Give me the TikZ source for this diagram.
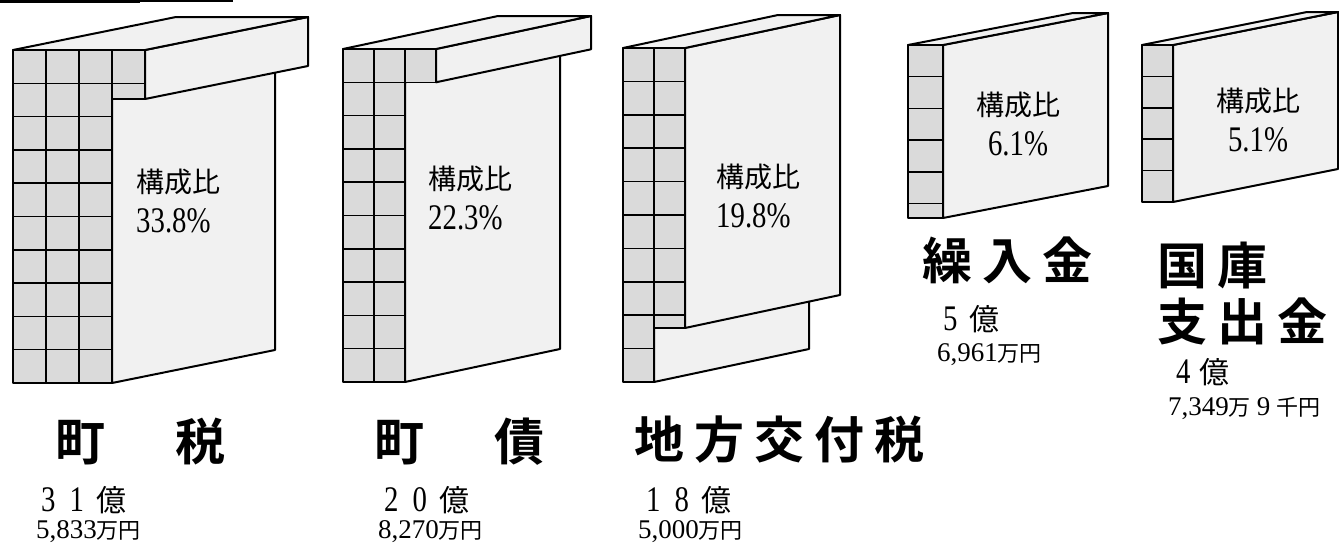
\documentclass[tikz,border=0pt]{standalone}
\usepackage{fontspec}
\setmainfont{Liberation Serif}
\newfontfamily\numfont{Liberation Serif}[FakeStretch=0.8]
\newfontfamily\jpfont{Noto Sans CJK JP}
\newfontfamily\jpbold{Noto Sans CJK JP Bold}[LetterSpace=20]
\usepackage{tikz}
\usetikzlibrary{calc}
\definecolor{face}{HTML}{F1F1F1}
\definecolor{tilegray}{HTML}{DADADA}
\tikzset{
  Face/.style={draw=black, line width=2pt, fill=face},
  Tile/.style={draw=black, line width=1.5pt, fill=tilegray},
  RatioText/.style={inner sep=0pt, font=\numfont\fontsize{36}{40}\selectfont},
  NameText/.style={inner sep=0pt, anchor=west, font=\jpbold\fontsize{50}{56}\selectfont},
  OkuText/.style={inner sep=0pt, anchor=west, font=\numfont\fontsize{36}{40}\selectfont},
  YenText/.style={inner sep=0pt, anchor=west, font=\fontsize{27}{30}\selectfont}
}
\newcommand{\TileGrid}[6]{%
  % #1,#2 = top left corner, #3 = tile width, #4 = tile height
  % #5 = columns, #6 = rows
  \foreach \ci in {1,...,#5}{%
    \foreach \ri in {1,...,#6}{%
      \draw[Tile] ({#1+(\ci-1)*#3},{#2+(\ri-1)*#4}) rectangle ++(#3,#4);
    }%
  }%
}
\newcommand{\SideFace}[5]{%
  % #1 = x of the face, #2 = top, #3 = bottom, (#4,#5) = depth
  \draw[Face] (#1,#2) -- ++(#4,#5) -- ($(#1,#3)+(#4,#5)$) -- (#1,#3) -- cycle;
}
\newcommand{\Kanji}[2]{{\jpfont\fontsize{#1}{#1}\selectfont #2}}
\begin{document}
\begin{tikzpicture}[x=1pt, y=-1pt, line join=round]
  \useasboundingbox (0,0) rectangle (1339,549);

  \draw[line width=3pt] (0,1) -- (140,1);
  \draw[line width=1.5pt] (140,1) -- (233,1);

  % 町税
  \SideFace{112}{99}{383}{163}{-33}
  \SideFace{145}{50}{99}{163}{-33}
  \draw[Face] (13,50) -- ++(163,-33) -- ++(132,0) -- (145,50) -- cycle;
  \TileGrid{13}{50}{33}{33.3}{3}{10}
  \draw[Tile] (112,50) rectangle (145,83.3);
  \draw[Tile] (112,83.3) rectangle (145,99);

  % 町債
  \SideFace{405}{82.3}{382}{155}{-33}
  \SideFace{436}{49}{82.3}{155}{-33}
  \draw[Face] (343,49) -- ++(155,-33) -- ++(93,0) -- (436,49) -- cycle;
  \TileGrid{343}{49}{31}{33.3}{2}{10}
  \draw[Tile] (405,49) rectangle (436,82.3);

  % 地方交付税
  \SideFace{654}{328}{382}{155}{-33}
  \SideFace{685}{48}{328}{155}{-33}
  \draw[Face] (623,48) -- ++(155,-33) -- ++(62,0) -- (685,48) -- cycle;
  \TileGrid{623}{48}{31}{33.4}{2}{8}
  \TileGrid{623}{315.2}{31}{33.4}{1}{2}
  \draw[Tile] (654,315.2) rectangle (685,328);

  % 繰入金
  \SideFace{943}{45}{218}{165}{-32}
  \draw[Face] (908,45) -- ++(165,-32) -- ++(35,0) -- (943,45) -- cycle;
  \TileGrid{908}{45}{35}{31.7}{1}{5}
  \draw[Tile] (908,203.5) rectangle (943,218);

  % 国庫支出金
  \SideFace{1173}{45}{202}{165}{-33}
  \draw[Face] (1142,45) -- ++(165,-33) -- ++(31,0) -- (1173,45) -- cycle;
  \TileGrid{1142}{45}{31}{31.4}{1}{5}

  \node[RatioText, anchor=west, align=left] (ratio1) at (136,201) {\Kanji{28}{構成比}\\33.8\%};
  \node[RatioText, anchor=west, align=left] (ratio2) at (428,198) {\Kanji{28}{構成比}\\22.3\%};
  \node[RatioText, anchor=west, align=left] (ratio3) at (716,196) {\Kanji{28}{構成比}\\19.8\%};
  \node[RatioText, align=center] (ratio4) at (1018,124) {\Kanji{28}{構成比}\\6.1\%};
  \node[RatioText, align=center] (ratio5) at (1258,120) {\Kanji{28}{構成比}\\5.1\%};

  \node[NameText] (name1) at (55,442) {町　税};
  \node[NameText] (name2) at (374,442) {町　債};
  \node[NameText] (name3) at (634,440) {地方交付税};
  \node[NameText] (name4) at (922,260) {繰入金};
  \node[NameText, align=left] (name5) at (1157,294) {国庫\\支出金};

  \node[OkuText] (oku1) at (41,500) {3\hspace{14pt}1\hspace{12pt}\Kanji{30}{億}};
  \node[YenText] (yen1) at (36,532) {5,833\Kanji{22}{万円}};
  \node[OkuText] (oku2) at (384,500) {2\hspace{14pt}0\hspace{12pt}\Kanji{30}{億}};
  \node[YenText] (yen2) at (378,532) {8,270\Kanji{22}{万円}};
  \node[OkuText] (oku3) at (646,500) {1\hspace{14pt}8\hspace{12pt}\Kanji{30}{億}};
  \node[YenText] (yen3) at (638,532) {5,000\Kanji{22}{万円}};
  \node[OkuText] (oku4) at (943,319) {5\hspace{12pt}\Kanji{30}{億}};
  \node[YenText] (yen4) at (937,355) {6,961\Kanji{22}{万円}};
  \node[OkuText] (oku5) at (1176,372) {4\hspace{9pt}\Kanji{30}{億}};
  \node[YenText] (yen5) at (1168,408) {7,349\Kanji{22}{万}\hspace{6pt}9\hspace{6pt}\Kanji{22}{千円}};
\end{tikzpicture}
\end{document}
